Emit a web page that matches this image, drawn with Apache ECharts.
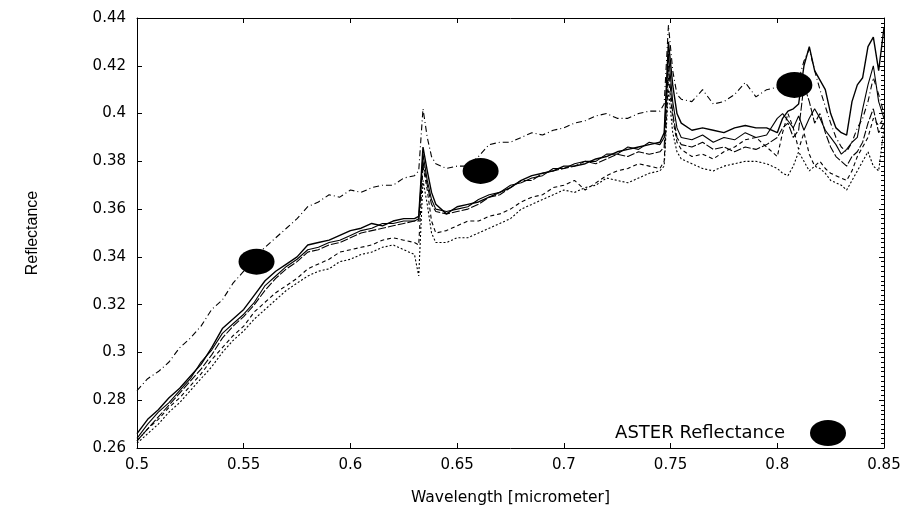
<!DOCTYPE html>
<html>
<head>
<meta charset="utf-8">
<script src="https://cdn.jsdelivr.net/npm/echarts@6/dist/echarts.min.js"></script>
<style>
html,body{margin:0;padding:0;background:#fff;}
#c{width:918px;height:512px;}
</style>
</head>
<body>
<div id="c"></div>
<script>
const wavelength = [0.500,0.505,0.510,0.515,0.520,0.525,0.530,0.535,0.540,0.545,0.550,0.555,0.560,0.565,0.570,0.575,0.580,0.585,0.590,0.595,0.600,0.605,0.610,0.615,0.620,0.625,0.630,
0.632,0.634,0.636,0.638,
0.640,0.645,0.650,0.655,0.660,0.665,0.670,0.675,0.680,0.685,0.690,0.695,0.700,0.705,0.710,0.715,0.720,0.725,0.730,0.735,0.740,0.745,
0.747,0.749,0.751,0.753,
0.755,0.760,0.765,0.770,0.775,0.780,0.785,0.790,0.795,0.800,
0.8025,0.805,0.8075,0.810,0.8125,0.815,0.8175,0.820,0.8225,0.825,0.8275,0.830,0.8325,0.835,0.8375,0.840,0.8425,0.845,0.8475,0.850];

const specA = [0.284,0.289,0.292,0.296,0.302,0.306,0.311,0.318,0.322,0.329,0.334,0.340,0.344,0.348,0.352,0.356,0.361,0.363,0.366,0.365,0.368,0.367,0.369,0.370,0.370,0.373,0.374,
0.376,0.402,0.390,0.382,
0.379,0.377,0.378,0.378,0.382,0.387,0.388,0.388,0.390,0.392,0.391,0.393,0.394,0.396,0.397,0.399,0.400,0.398,0.398,0.400,0.401,0.401,
0.404,0.437,0.418,0.408,
0.406,0.405,0.410,0.404,0.405,0.408,0.413,0.407,0.410,0.411,
0.412,0.412,0.413,0.414,0.422,0.427,0.418,0.410,0.403,0.396,0.390,0.386,0.384,0.388,0.394,0.398,0.405,0.415,0.408,0.400];

const specB = [0.266,0.272,0.276,0.281,0.285,0.290,0.295,0.302,0.310,0.314,0.318,0.324,0.330,0.334,0.337,0.340,0.345,0.346,0.347,0.349,0.351,0.352,0.354,0.353,0.355,0.356,0.356,
0.357,0.386,0.376,0.367,
0.362,0.358,0.361,0.362,0.363,0.365,0.367,0.369,0.372,0.374,0.375,0.376,0.378,0.378,0.379,0.381,0.382,0.384,0.385,0.386,0.387,0.388,
0.392,0.430,0.412,0.400,
0.396,0.393,0.394,0.393,0.392,0.394,0.395,0.394,0.394,0.392,
0.398,0.401,0.402,0.404,0.420,0.428,0.418,0.414,0.410,0.400,0.394,0.392,0.391,0.405,0.412,0.415,0.428,0.432,0.418,0.436];

const specC = [0.264,0.270,0.275,0.279,0.284,0.289,0.296,0.301,0.308,0.312,0.316,0.321,0.328,0.332,0.336,0.339,0.343,0.344,0.346,0.347,0.349,0.351,0.352,0.354,0.354,0.355,0.355,
0.356,0.383,0.372,0.364,
0.360,0.359,0.360,0.361,0.364,0.366,0.367,0.370,0.371,0.373,0.374,0.377,0.377,0.379,0.380,0.380,0.383,0.383,0.386,0.385,0.388,0.387,
0.390,0.425,0.405,0.394,
0.390,0.389,0.391,0.388,0.390,0.389,0.392,0.390,0.391,0.398,
0.400,0.397,0.394,0.399,0.393,0.398,0.402,0.398,0.393,0.390,0.387,0.383,0.385,0.388,0.390,0.402,0.412,0.420,0.405,0.398];

const specD = [0.263,0.268,0.273,0.278,0.283,0.288,0.293,0.299,0.306,0.311,0.315,0.320,0.326,0.331,0.335,0.338,0.342,0.343,0.345,0.346,0.348,0.350,0.351,0.352,0.353,0.354,0.355,
0.355,0.380,0.370,0.362,
0.359,0.358,0.359,0.360,0.362,0.365,0.366,0.369,0.372,0.372,0.375,0.376,0.377,0.378,0.380,0.379,0.381,0.383,0.382,0.384,0.383,0.384,
0.386,0.420,0.400,0.390,
0.387,0.386,0.388,0.385,0.386,0.384,0.386,0.385,0.387,0.390,
0.394,0.396,0.390,0.393,0.412,0.405,0.396,0.400,0.392,0.386,0.382,0.380,0.378,0.382,0.384,0.388,0.396,0.402,0.392,0.396];

const specE = [0.263,0.268,0.272,0.277,0.281,0.286,0.291,0.297,0.302,0.307,0.311,0.317,0.321,0.325,0.328,0.331,0.335,0.337,0.339,0.342,0.343,0.344,0.345,0.347,0.348,0.347,0.346,
0.345,0.378,0.368,0.355,
0.350,0.351,0.353,0.355,0.355,0.357,0.358,0.360,0.363,0.365,0.366,0.369,0.370,0.372,0.368,0.371,0.374,0.376,0.377,0.379,0.378,0.377,
0.380,0.415,0.398,0.388,
0.385,0.382,0.383,0.381,0.384,0.386,0.389,0.390,0.386,0.382,
0.392,0.400,0.394,0.385,0.392,0.383,0.378,0.380,0.377,0.375,0.374,0.373,0.372,0.376,0.382,0.386,0.390,0.398,0.395,0.398];

const specF = [0.262,0.266,0.270,0.275,0.279,0.284,0.289,0.294,0.300,0.305,0.309,0.314,0.318,0.322,0.326,0.329,0.332,0.334,0.335,0.338,0.339,0.341,0.342,0.344,0.345,0.343,0.341,
0.332,0.372,0.362,0.350,
0.346,0.346,0.348,0.348,0.350,0.352,0.354,0.356,0.360,0.362,0.364,0.366,0.368,0.367,0.369,0.370,0.373,0.372,0.371,0.373,0.375,0.376,
0.378,0.410,0.392,0.384,
0.381,0.379,0.377,0.376,0.378,0.379,0.380,0.380,0.379,0.377,
0.375,0.374,0.378,0.384,0.380,0.376,0.378,0.377,0.375,0.372,0.371,0.370,0.368,0.372,0.376,0.380,0.384,0.378,0.376,0.394];

const asterX = [0.556, 0.661, 0.808];
const asterY = [0.338, 0.376, 0.412];

function pairs(ys){ return wavelength.map((w,i)=>[w, ys[i]]); }

const spectra = [
  {d: specA, type: [6,3,1,3], w: 1.1},
  {d: specB, type: 'solid', w: 1.4},
  {d: specC, type: 'solid', w: 1.1},
  {d: specD, type: [8,2], w: 1.1},
  {d: specE, type: [4,3], w: 1.1},
  {d: specF, type: [2,2], w: 1.1}
];

const fontL = 'Liberation Sans, Arial, sans-serif';
const fontD = 'DejaVu Sans, sans-serif';
const chart = echarts.init(document.getElementById('c'), null, {renderer:'canvas'});

const series = spectra.map(s => ({
  type: 'line', data: pairs(s.d), showSymbol: false, symbol: 'none',
  lineStyle: {color:'#000', width: s.w, type: s.type}, silent: true, z: 2,
  animation: false
}));
series.push({
  name: 'ASTER Reflectance', type: 'scatter',
  data: asterX.map((x,i)=>[x, asterY[i]]),
  symbol: 'circle', symbolSize: [36, 26],
  itemStyle: {color:'#000', opacity: 1}, z: 5, animation: false
});

const axisCommon = {
  axisLine: {show:true, onZero:false, lineStyle:{color:'#000', width:1}},
  axisTick: {show:true, inside:true, length:5, lineStyle:{color:'#000'}},
  splitLine: {show:false}
};

chart.setOption({
  animation: false,
  backgroundColor: '#fff',
  grid: {left:137, right:34, top:18, bottom:64},
  legend: {
    data: [{name:'ASTER Reflectance', icon:'path://M18,0A18,13,0,1,1,18,26A18,13,0,1,1,18,0Z'}],
    right: 67, top: 415, align: 'right',
    itemWidth: 36, itemHeight: 27,
    textStyle: {fontFamily: fontD, fontSize: 18, color:'#000', padding:[0,20,0,0]}
  },
  xAxis: [
    Object.assign({type:'value', min:0.5, max:0.85, interval:0.05,
      name:'Wavelength [micrometer]', nameLocation:'middle', nameGap:42,
      nameTextStyle:{fontFamily:fontD, fontSize:15.5, color:'#000'},
      axisLabel:{fontFamily:fontD, fontSize:15, color:'#000', margin:10,
        formatter: v => String(+v.toFixed(2))}
    }, axisCommon),
    Object.assign({type:'value', position:'top', min:0.5, max:0.85, interval:0.05,
      axisLabel:{show:false}}, axisCommon)
  ],
  yAxis: [
    Object.assign({type:'value', min:0.26, max:0.44, interval:0.02,
      name:'Reflectance', nameLocation:'middle', nameGap:96, nameRotate:90,
      nameTextStyle:{fontFamily:fontL, fontSize:16, color:'#000'},
      axisLabel:{fontFamily:fontD, fontSize:15, color:'#000', margin:11,
        formatter: v => String(+v.toFixed(2))}
    }, axisCommon),
    Object.assign({type:'value', position:'right', min:0.26, max:0.44, interval:0.02,
      axisLabel:{show:false},
      minorTick:{show:true, splitNumber:10, length:3, lineStyle:{color:'#000'}}
    }, axisCommon)
  ],
  series: series
});
</script>
</body>
</html>
